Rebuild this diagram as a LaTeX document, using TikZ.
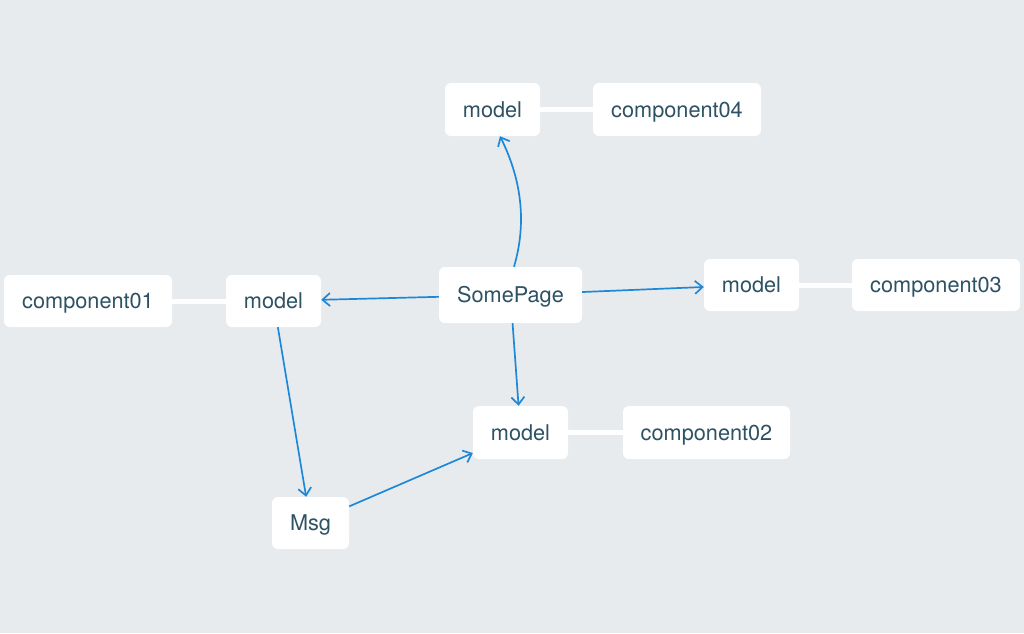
\documentclass[tikz,border=0pt]{standalone}
\usepackage{fontspec}
\setmainfont{TeX Gyre Heros}
\usetikzlibrary{arrows.meta}
\definecolor{bg}{HTML}{E8EBEE}
\definecolor{txt}{HTML}{2D5263}
\definecolor{arr}{HTML}{1E88D8}
\begin{document}
\begin{tikzpicture}[x=1pt,y=-1pt,
  box/.style={fill=white,rounded corners=6pt,inner sep=0pt,text=txt,text height=19pt,text depth=4pt,font=\fontsize{21.7}{26}\selectfont},
  link/.style={white,line width=5pt},
  arrow/.style={arr,line width=1.7pt,-{Straight Barb[length=7.5pt,width=13pt,line width=1.7pt]}}]
\fill[bg] (0,0) rectangle (1024,633);
\useasboundingbox (0,0) rectangle (1024,633);
\node[box,minimum width=95pt,minimum height=53pt] (m4) at (492.5,109.5) {model};
\node[box,minimum width=168pt,minimum height=53pt] (c4) at (677,109.5) {component04};
\node[box,minimum width=168pt,minimum height=52pt] (c1) at (88,301) {component01};
\node[box,minimum width=95pt,minimum height=52pt] (m1) at (273.5,301) {model};
\node[box,minimum width=143pt,minimum height=56pt] (sp) at (510.5,295) {SomePage};
\node[box,minimum width=95pt,minimum height=52pt] (m3) at (751.5,285) {model};
\node[box,minimum width=168pt,minimum height=52pt] (c3) at (936,285) {component03};
\node[box,minimum width=95pt,minimum height=53pt] (m2) at (520.5,432.5) {model};
\node[box,minimum width=167pt,minimum height=53pt] (c2) at (706.5,432.5) {component02};
\node[box,minimum width=77pt,minimum height=52pt] (msg) at (310.5,523) {Msg};
\draw[link] (m4) -- (c4);
\draw[link] (c1) -- (m1);
\draw[link] (m3) -- (c3);
\draw[link] (m2) -- (c2);
\coordinate (cs) at ([xshift=3.5pt]sp.north);
\coordinate (ce) at ([xshift=7.5pt]m4.south);
\draw[arrow] (cs) .. controls (526.7,223.3) and (522,180.7) .. (ce);
\draw[arrow] (sp) -- (m1);
\draw[arrow] (sp) -- (m3);
\draw[arrow] (sp) -- (m2);
\draw[arrow] (m1) -- (msg);
\draw[arrow] (msg) -- (m2);
\end{tikzpicture}
\end{document}
